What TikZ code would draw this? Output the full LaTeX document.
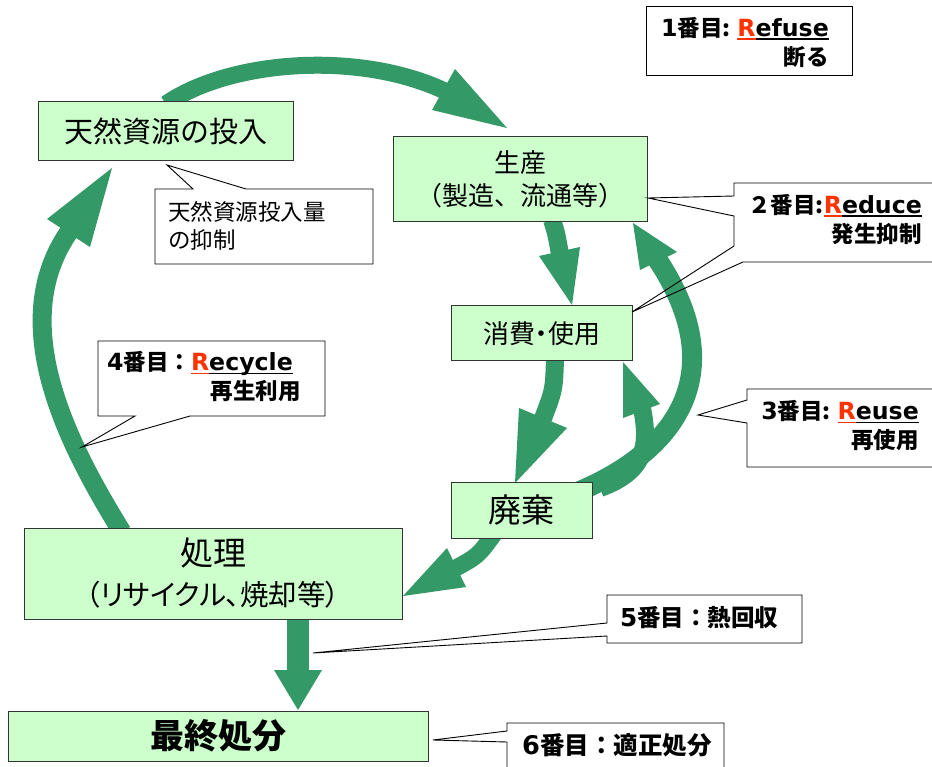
\documentclass[tikz,border=0pt]{standalone}
\usepackage{fontspec}
\setmainfont{Noto Sans CJK JP}
\newfontfamily\vf{DejaVu Sans}[Scale=1.05]
\newfontfamily\jpp{Noto Sans CJK JP}[RawFeature=+palt]
\definecolor{grn}{RGB}{51,153,102}
\definecolor{boxg}{RGB}{204,255,204}
\definecolor{rred}{RGB}{255,51,0}
\newcommand\ulr[2]{\setbox0=\hbox{#2}\rlap{\textcolor{#1}{\rule[-3.5pt]{\wd0}{1.6pt}}}\box0}
\newcommand\fsz[2]{\fontsize{#1}{#2}\selectfont}
\begin{document}
\begin{tikzpicture}[x=1pt,y=-1pt,
  box/.style={draw=black!80, fill=boxg, line width=1pt, inner sep=0pt, align=center},
  callout/.style={draw=black, line width=0.9pt, line join=miter},
  shaft/.style={draw=grn, line cap=butt},
  head/.style={fill=grn},
  ctext/.style={font=\bfseries\fsz{22.5}{29}, align=right, inner sep=0pt},
]
\useasboundingbox (0,0) rectangle (932,767);
\fill[white] (0,0) rectangle (932,767);
\clip (0,0) rectangle (932,767);

% ---- arrow end coordinates
\coordinate (a1s) at (166,104);
\coordinate (a1e) at (447,92);
\coordinate (a2s) at (122,532);
\coordinate (a2e) at (71,229);
\coordinate (a3s) at (552,220);
\coordinate (a3e) at (560,254);
\coordinate (a4s) at (555,359);
\coordinate (a4e) at (542,421);
\coordinate (a5s) at (600,488);
\coordinate (a5e) at (642,408);
\coordinate (a6s) at (570,495);
\coordinate (a6e) at (655,256);
\coordinate (a7s) at (494,534);
\coordinate (a7e) at (454,569);
\coordinate (a8s) at (298,617);
\coordinate (a8e) at (298,672);

% ---- green arrows
\draw[shaft, line width=17pt] (a1s) .. controls (230,60) and (360,50) .. (a1e);
\fill[head] (455,69) -- (507,128) -- (432,110) -- cycle;

\draw[shaft, line width=19pt] (a2s) .. controls (65,440) and (5,320) .. (a2e);
\fill[head] (47,219) -- (112,168) -- (90,247) -- cycle;

\draw[shaft, line width=18pt] (a3s) .. controls (556,232) .. (a3e);
\fill[head] (539,256) -- (580,247) -- (572,305) -- cycle;

\draw[shaft, line width=18pt] (a4s) .. controls (554,390) .. (a4e);
\fill[head] (519,408) -- (567,428) -- (515,483) -- cycle;

\draw[shaft, line width=18pt] (a5s) .. controls (650,470) and (648,440) .. (a5e);
\fill[head] (623,418) -- (660,404) -- (623,362) -- cycle;

\draw[shaft, line width=20pt] (a6s) .. controls (680,452) and (733,370) .. (a6e);
\fill[head] (640,270) -- (677,252) -- (633,223) -- cycle;

\draw[shaft, line width=17pt] (a7s) .. controls (478,556) .. (a7e);
\fill[head] (447,548) -- (466,587) -- (403,596) -- cycle;

\draw[shaft, line width=22pt] (a8s) -- (a8e);
\fill[head] (274,670) -- (322,670) -- (298,710) -- cycle;

% ---- boxes
\node[box, minimum width=255pt, minimum height=59pt, font=\fsz{29}{35}] (nat) at (165.5,131.5) {天然資源の投入};
\node[box, minimum width=254pt, minimum height=85pt, font=\fsz{26}{33}] (prod) at (520,179.5) {生産\\（製造、流通等）};
\node[box, minimum width=181pt, minimum height=55pt, font=\jpp\fsz{26}{30}] (cons) at (541.5,333.5) {消費・使用};
\node[box, minimum width=141pt, minimum height=56pt, font=\fsz{33}{36}] (waste) at (521.5,510) {廃棄};
\node[box, minimum width=378pt, minimum height=91pt, font=\jpp\fsz{28.5}{40}] (proc) at (213,573.5) {{\fsz{33}{40}処理}\\（リサイクル、焼却等）};
\node[box, minimum width=420pt, minimum height=50pt, font=\bfseries\fsz{34}{40}] (final) at (218,736) {最終処分};

% ---- callouts
\draw[callout] (646,6) rectangle (852,75);
\node[ctext, anchor=east] (c1) at (829,42) {{\vf 1}番目: {\vf\ulr{rred}{\textcolor{rred}{R}}\ulr{black}{efuse}}\\断る};

\draw[callout] (155,189) -- (193,189) -- (167,165) -- (246,189) -- (373,189) -- (373,264) -- (155,264) -- cycle;
\node[font=\fsz{22.5}{28}, align=left, inner sep=0pt, anchor=west] (c0) at (168,226) {天然資源投入量\\の抑制};

\draw[callout] (940,183) -- (734,183) -- (734,196) -- (648,198) -- (734,216) -- (734,246) -- (632,312) -- (743,262) -- (940,262);
\node[ctext, anchor=east] (c2) at (922,219.5) {２番目:{\vf\ulr{rred}{\textcolor{rred}{R}}\ulr{black}{educe}}\\発生抑制};

\draw[callout] (940,389) -- (747,389) -- (747,400) -- (698,415) -- (747,423) -- (747,467) -- (940,467);
\node[ctext, anchor=east] (c3) at (919,426) {{\vf 3}番目: {\vf\ulr{rred}{\textcolor{rred}{R}}\ulr{black}{euse}}\\再使用};

\draw[callout] (98,341) -- (325,341) -- (325,416) -- (190,416) -- (82,447) -- (135,416) -- (98,416) -- cycle;
\node[ctext, anchor=east] (c4) at (301,377) {{\vf 4}番目：{\vf\ulr{rred}{\textcolor{rred}{R}}\ulr{black}{ecycle}}\hspace*{8pt}\\再生利用};

\draw[callout] (607,595) -- (802,595) -- (802,643) -- (607,643) -- (607,636) -- (313,653) -- (607,623) -- cycle;
\node[ctext, anchor=west, font=\bfseries\fsz{23.5}{29}] (c5) at (620,618) {{\vf 5}番目：熱回収};

\draw[callout] (507,780) -- (507,742) -- (433,740) -- (507,731) -- (507,723) -- (724,723) -- (724,780);
\node[ctext, anchor=west, font=\bfseries\fsz{24.5}{29}] (c6) at (522,745) {{\vf 6}番目：適正処分};
\end{tikzpicture}
\end{document}
